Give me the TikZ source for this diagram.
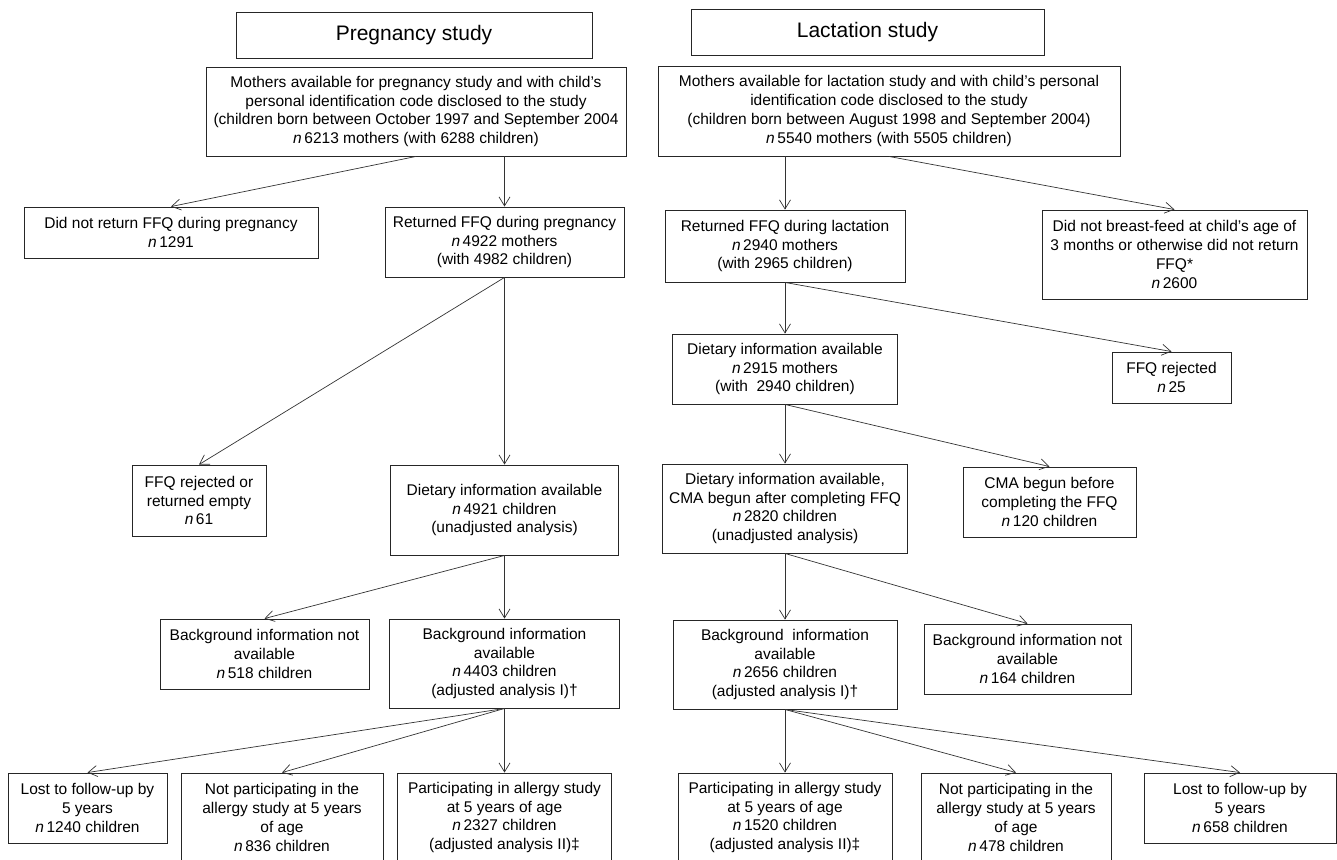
\documentclass[tikz,border=0pt]{standalone}
\usepackage{fontspec}
\setmainfont{Liberation Sans}
\usetikzlibrary{arrows.meta}
\tikzset{
  box/.style={draw=black!85, line width=0.9pt, align=center, inner sep=0pt,
    font=\fontsize{15.5}{18.8}\selectfont},
  titlebox/.style={box, font=\fontsize{21}{24}\selectfont},
  arr/.style={-{Straight Barb[length=9pt,width=11pt]}, draw=black!80, line width=0.7pt},
}
\newcommand{\nn}{\textit{n}\,}
\begin{document}
\begin{tikzpicture}[x=1pt,y=-1pt]
\useasboundingbox (0,0) rectangle (1337,859);
% titles
\node[titlebox, minimum width=356pt, minimum height=46pt] (ptitle) at (414,35) {Pregnancy study};
\node[titlebox, minimum width=353pt, minimum height=46pt] (ltitle) at (867.5,32) {Lactation study};
% pregnancy column
\node[box, minimum width=420pt, minimum height=89pt] (pm) at (416,111.5)
  {Mothers available for pregnancy study and with child’s\\personal identification code disclosed to the study\\(children born between October 1997 and September 2004\\\nn 6213 mothers (with 6288 children)};
\node[box, minimum width=294pt, minimum height=51pt] (pnr) at (171,232.5)
  {Did not return FFQ during pregnancy\\\nn 1291};
\node[box, minimum width=239pt, minimum height=70pt] (pr) at (504.5,242)
  {Returned FFQ during pregnancy\\\nn 4922 mothers\\(with 4982 children)};
\node[box, minimum width=134pt, minimum height=71pt] (prej) at (199,500.5)
  {FFQ rejected or\\returned empty\\\nn 61};
\node[box, minimum width=228pt, minimum height=90pt] (pd) at (504.5,510)
  {Dietary information available\\\nn 4921 children\\(unadjusted analysis)};
\node[box, minimum width=209pt, minimum height=70pt] (pbn) at (264.5,654)
  {Background information not\\available\\\nn 518 children};
\node[box, minimum width=230pt, minimum height=89pt] (pba) at (504.5,663.5)
  {Background information\\available\\\nn 4403 children\\(adjusted analysis I)†};
\node[box, minimum width=159pt, minimum height=70pt] (plost) at (87.5,808)
  {Lost to follow-up by\\5 years\\\nn 1240 children};
\node[box, minimum width=202pt, minimum height=89pt] (pnot) at (282,817.5)
  {Not participating in the\\allergy study at 5 years\\of age\\\nn 836 children};
\node[box, minimum width=214pt, minimum height=89pt] (ppart) at (504.5,817.5)
  {Participating in allergy study\\at 5 years of age\\\nn 2327 children\\(adjusted analysis II)‡};
% lactation column
\node[box, minimum width=462pt, minimum height=90pt] (lm) at (889,111)
  {Mothers available for lactation study and with child’s personal\\identification code disclosed to the study\\(children born between August 1998 and September 2004)\\\nn 5540 mothers (with 5505 children)};
\node[box, minimum width=240pt, minimum height=72pt] (lr) at (785,246)
  {Returned FFQ during lactation\\\nn 2940 mothers\\(with 2965 children)};
\node[box, minimum width=265pt, minimum height=89pt] (lnb) at (1174.5,254.5)
  {Did not breast-feed at child’s age of\\3 months or otherwise did not return\\FFQ*\\\nn 2600};
\node[box, minimum width=225pt, minimum height=70pt] (ld) at (785,369)
  {Dietary information available\\\nn 2915 mothers\\(with~ 2940 children)};
\node[box, minimum width=119pt, minimum height=51pt] (lrej) at (1171.5,377.5)
  {FFQ rejected\\\nn 25};
\node[box, minimum width=245pt, minimum height=89pt] (lcma) at (785,508.5)
  {Dietary information available,\\CMA begun after completing FFQ\\\nn 2820 children\\(unadjusted analysis)};
\node[box, minimum width=173pt, minimum height=70pt] (lcmab) at (1049.5,502)
  {CMA begun before\\completing the FFQ\\\nn 120 children};
\node[box, minimum width=224pt, minimum height=89pt] (lba) at (785,664.5)
  {Background~ information\\available\\\nn 2656 children\\(adjusted analysis I)†};
\node[box, minimum width=207pt, minimum height=70pt] (lbn) at (1027.5,659)
  {Background information not\\available\\\nn 164 children};
\node[box, minimum width=214pt, minimum height=89pt] (lpart) at (785,817.5)
  {Participating in allergy study\\at 5 years of age\\\nn 1520 children\\(adjusted analysis II)‡};
\node[box, minimum width=190pt, minimum height=89pt] (lnot) at (1016,817.5)
  {Not participating in the\\allergy study at 5 years\\of age\\\nn 478 children};
\node[box, minimum width=192pt, minimum height=70pt] (llost) at (1240,808)
  {Lost to follow-up by\\5 years\\\nn 658 children};
% arrows pregnancy
\draw[arr] (pm.south) -- (pnr.north);
\draw[arr] (pr.north |- pm.south) -- (pr.north);
\draw[arr] (pr.south) -- (prej.north);
\draw[arr] (pr.south) -- (pd.north);
\draw[arr] (pd.south) -- (pbn.north);
\draw[arr] (pd.south) -- (pba.north);
\draw[arr] (pba.south) -- (plost.north);
\draw[arr] (pba.south) -- (pnot.north);
\draw[arr] (pba.south) -- (ppart.north);
% arrows lactation
\draw[arr] (lr.north |- lm.south) -- (lr.north);
\draw[arr] (lm.south) -- (lnb.north);
\draw[arr] (lr.south) -- (ld.north);
\draw[arr] (lr.south) -- (lrej.north);
\draw[arr] (ld.south) -- (lcma.north);
\draw[arr] (ld.south) -- (lcmab.north);
\draw[arr] (lcma.south) -- (lba.north);
\draw[arr] (lcma.south) -- (lbn.north);
\draw[arr] (lba.south) -- (lpart.north);
\draw[arr] (lba.south) -- (lnot.north);
\draw[arr] (lba.south) -- (llost.north);
\end{tikzpicture}
\end{document}
